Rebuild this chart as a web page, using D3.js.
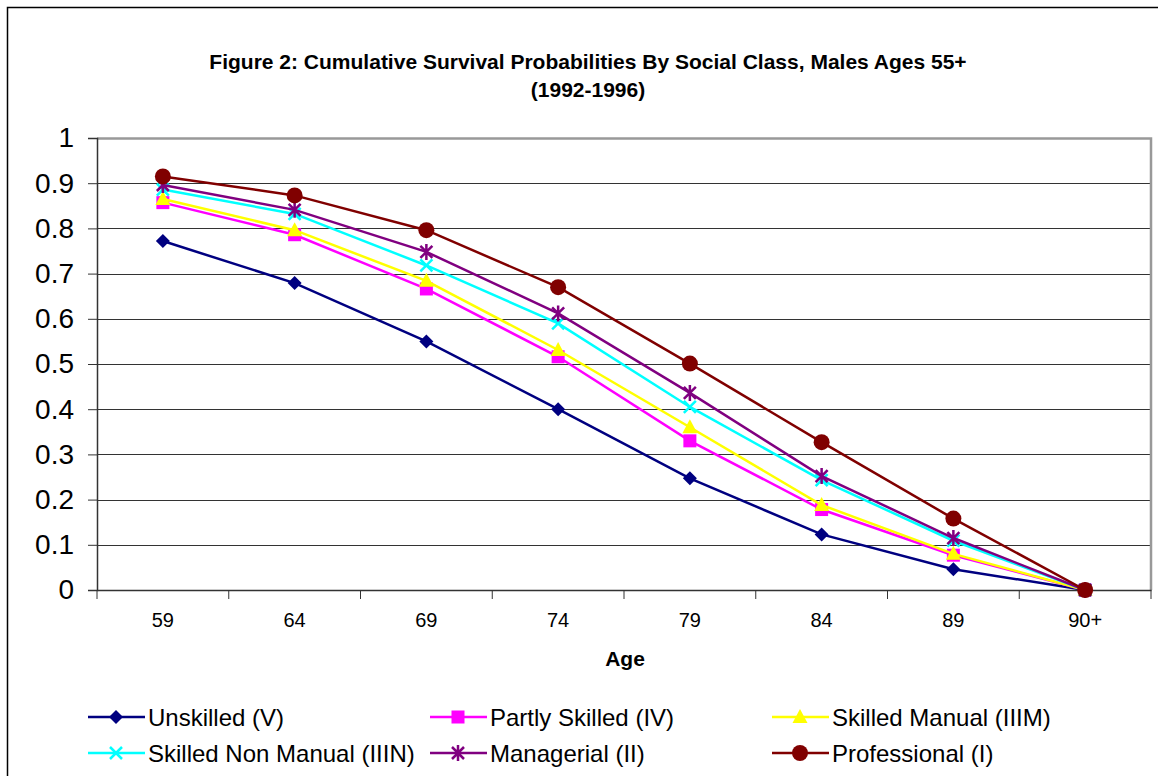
<!DOCTYPE html>
<html lang="en">
<head>
<meta charset="UTF-8" />
<title>Figure 2</title>
<script src="https://cdn.jsdelivr.net/npm/d3@7"></script>
<style>
  body { margin: 0; background: #fff; }
  svg text { font-family: "Liberation Sans", Arial, sans-serif; }
</style>
</head>
<body>
<script>
const ages = ["59", "64", "69", "74", "79", "84", "89", "90+"];
const yTicks = [0, 0.1, 0.2, 0.3, 0.4, 0.5, 0.6, 0.7, 0.8, 0.9, 1];

const seriesNames = ["Unskilled (V)", "Partly Skilled (IV)", "Skilled Manual (IIIM)",
  "Skilled Non Manual (IIIN)", "Managerial (II)", "Professional (I)"];
const seriesColors = ["#000080", "#ff00ff", "#ffff00", "#00ffff", "#800080", "#800000"];
const seriesSymbols = ["diamond", "square", "triangle", "cross", "star", "circle"];

const unskilled    = [0.772, 0.679, 0.550, 0.400, 0.247, 0.123, 0.046, 0];
const partlySkilled = [0.857, 0.786, 0.666, 0.516, 0.330, 0.178, 0.077, 0];
const skilledManual = [0.865, 0.796, 0.684, 0.531, 0.360, 0.188, 0.080, 0];
const skilledNonManual = [0.886, 0.832, 0.718, 0.590, 0.405, 0.243, 0.109, 0];
const managerial   = [0.896, 0.841, 0.748, 0.612, 0.436, 0.252, 0.115, 0];
const professional = [0.915, 0.873, 0.796, 0.670, 0.501, 0.327, 0.158, 0];

const seriesValues = [unskilled, partlySkilled, skilledManual, skilledNonManual, managerial, professional];

const width = 1158, height = 776;
const plot = { left: 97, right: 1151, top: 138, bottom: 590 };

const svg = d3.select("body").append("svg")
  .attr("width", width).attr("height", height);

// outer chart border (top + left)
svg.append("path")
  .attr("d", `M7.5,${height} V7.5 H${width}`)
  .attr("fill", "none").attr("stroke", "#000").attr("stroke-width", 1.5);

const x = d3.scaleBand().domain(ages).range([plot.left, plot.right]);
const y = d3.scaleLinear().domain([0, 1]).range([plot.bottom, plot.top]);

// gridlines
svg.append("g").selectAll("line").data(yTicks.filter(d => d > 0 && d < 1)).join("line")
  .attr("x1", plot.left).attr("x2", plot.right)
  .attr("y1", d => Math.round(y(d)) + 0.5).attr("y2", d => Math.round(y(d)) + 0.5)
  .attr("stroke", "#333").attr("stroke-width", 1);

// plot border top/right (grey)
svg.append("path")
  .attr("d", `M${plot.left},${plot.top + 0.5} H${plot.right} V${plot.bottom}`)
  .attr("fill", "none").attr("stroke", "#999").attr("stroke-width", 2.5);

// y axis
const yAxis = d3.axisLeft(y).tickValues(yTicks).tickSize(9).tickPadding(14)
  .tickFormat(d => d3.format("")(d));
const gy = svg.append("g").attr("transform", `translate(${plot.left},0)`).call(yAxis);
gy.select(".domain").attr("stroke", "#333").attr("stroke-width", 1.5);
gy.selectAll(".tick line").attr("stroke", "#333");
gy.selectAll("text").attr("font-size", 28).attr("fill", "#000")
  .attr("font-family", "Liberation Sans, Arial, sans-serif");

// x axis
const gx = svg.append("g").attr("transform", `translate(0,${plot.bottom})`)
  .call(d3.axisBottom(x).tickSize(0).tickPadding(23));
gx.select(".domain").attr("stroke", "#333").attr("stroke-width", 1.5);
gx.selectAll("text").attr("font-size", 20).attr("fill", "#000")
  .attr("font-family", "Liberation Sans, Arial, sans-serif");
svg.append("g").selectAll("line").data(d3.range(ages.length + 1)).join("line")
  .attr("x1", i => plot.left + i * x.step()).attr("x2", i => plot.left + i * x.step())
  .attr("y1", plot.bottom).attr("y2", plot.bottom + 9)
  .attr("stroke", "#333");

// titles
svg.append("text").attr("x", 588).attr("y", 69).attr("text-anchor", "middle")
  .attr("font-size", 21).attr("font-weight", "bold")
  .text("Figure 2: Cumulative Survival Probabilities By Social Class, Males Ages 55+");
svg.append("text").attr("x", 588).attr("y", 97).attr("text-anchor", "middle")
  .attr("font-size", 21).attr("font-weight", "bold").text("(1992-1996)");
svg.append("text").attr("x", 625).attr("y", 666).attr("text-anchor", "middle")
  .attr("font-size", 21).attr("font-weight", "bold").text("Age");

function drawMarker(g, sym, color) {
  if (sym === "diamond") {
    g.append("path").attr("d", "M0,-7 L7,0 L0,7 L-7,0 Z").attr("fill", color);
  } else if (sym === "square") {
    g.append("rect").attr("x", -6.5).attr("y", -6.5).attr("width", 13).attr("height", 13).attr("fill", color);
  } else if (sym === "triangle") {
    g.append("path").attr("d", "M0,-8 L7.5,6 L-7.5,6 Z").attr("fill", color);
  } else if (sym === "cross") {
    g.append("path").attr("d", "M-6,-6 L6,6 M-6,6 L6,-6").attr("stroke", color).attr("stroke-width", 2.5);
  } else if (sym === "star") {
    g.append("path").attr("d", "M-6,-6 L6,6 M-6,6 L6,-6 M0,-8 V8").attr("stroke", color).attr("stroke-width", 2.5);
  } else if (sym === "circle") {
    g.append("circle").attr("r", 8).attr("fill", color);
  }
}

const line = d3.line().x((d, i) => x(ages[i]) + x.bandwidth() / 2).y(d => y(d));

seriesValues.forEach((vals, s) => {
  svg.append("path").datum(vals).attr("d", line)
    .attr("fill", "none").attr("stroke", seriesColors[s]).attr("stroke-width", 2.5);
  vals.forEach((v, i) => {
    const g = svg.append("g")
      .attr("transform", `translate(${x(ages[i]) + x.bandwidth() / 2},${y(v)})`);
    drawMarker(g, seriesSymbols[s], seriesColors[s]);
  });
});

// legend
const legendCols = [88, 430, 772];
const legendRows = [717, 753];
seriesNames.forEach((name, s) => {
  const lx = legendCols[s % 3], ly = legendRows[Math.floor(s / 3)];
  const g = svg.append("g").attr("transform", `translate(${lx},${ly})`);
  g.append("line").attr("x1", 0).attr("x2", 57).attr("y1", 0).attr("y2", 0)
    .attr("stroke", seriesColors[s]).attr("stroke-width", 2.5);
  drawMarker(g.append("g").attr("transform", "translate(28,0)"), seriesSymbols[s], seriesColors[s]);
  g.append("text").attr("x", 60).attr("y", 8.5).attr("font-size", 24).text(name);
});
</script>
</body>
</html>
